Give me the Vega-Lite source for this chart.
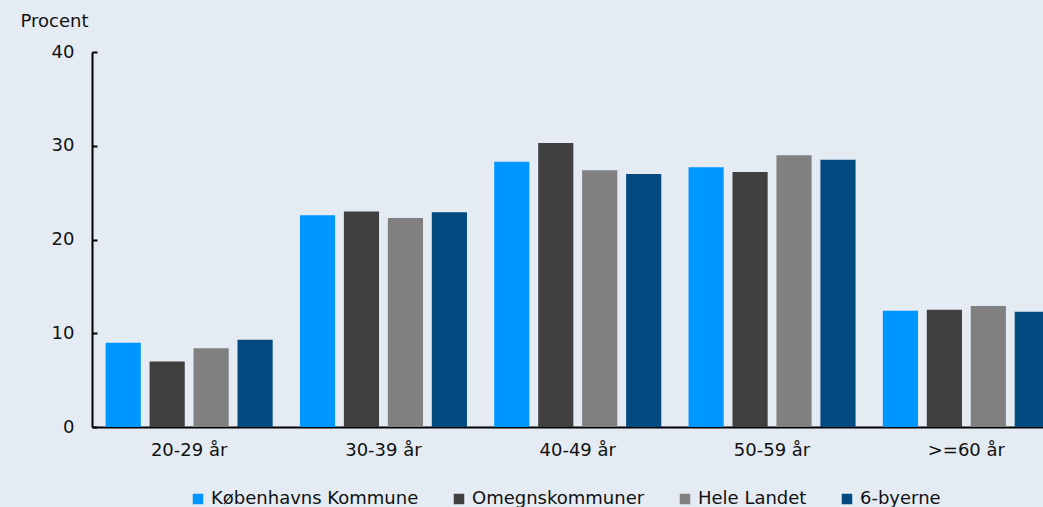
{
  "$schema": "https://vega.github.io/schema/vega-lite/v6.json",
  "width": 971.5,
  "height": 375,
  "autosize": {"type": "none"},
  "padding": {"left": 92, "top": 52, "right": 0, "bottom": 80},
  "background": "#e4ebf3",
  "config": {
    "view": {"stroke": null, "fill": "#e4ebf3", "clip": false},
    "font": "DejaVu Sans",
    "text": {"font": "DejaVu Sans"}
  },
  "data": {
    "values": [
      {"alder": "20-29 år", "område": "Københavns Kommune", "pct": 9.0},
      {"alder": "20-29 år", "område": "Omegnskommuner", "pct": 7.0},
      {"alder": "20-29 år", "område": "Hele Landet", "pct": 8.4},
      {"alder": "20-29 år", "område": "6-byerne", "pct": 9.3},
      {"alder": "30-39 år", "område": "Københavns Kommune", "pct": 22.6},
      {"alder": "30-39 år", "område": "Omegnskommuner", "pct": 23.0},
      {"alder": "30-39 år", "område": "Hele Landet", "pct": 22.3},
      {"alder": "30-39 år", "område": "6-byerne", "pct": 22.9},
      {"alder": "40-49 år", "område": "Københavns Kommune", "pct": 28.3},
      {"alder": "40-49 år", "område": "Omegnskommuner", "pct": 30.3},
      {"alder": "40-49 år", "område": "Hele Landet", "pct": 27.4},
      {"alder": "40-49 år", "område": "6-byerne", "pct": 27.0},
      {"alder": "50-59 år", "område": "Københavns Kommune", "pct": 27.7},
      {"alder": "50-59 år", "område": "Omegnskommuner", "pct": 27.2},
      {"alder": "50-59 år", "område": "Hele Landet", "pct": 29.0},
      {"alder": "50-59 år", "område": "6-byerne", "pct": 28.5},
      {"alder": ">=60 år", "område": "Københavns Kommune", "pct": 12.4},
      {"alder": ">=60 år", "område": "Omegnskommuner", "pct": 12.5},
      {"alder": ">=60 år", "område": "Hele Landet", "pct": 12.9},
      {"alder": ">=60 år", "område": "6-byerne", "pct": 12.3}
    ]
  },
  "mark": {"type": "bar"},
  "encoding": {
    "x": {
      "field": "alder",
      "type": "nominal",
      "sort": ["20-29 år", "30-39 år", "40-49 år", "50-59 år", ">=60 år"],
      "scale": {"paddingInner": 0, "paddingOuter": 0},
      "axis": {
        "title": null,
        "labelAngle": 0,
        "labelFontSize": 18,
        "labelColor": "#111111",
        "labelPadding": 14,
        "ticks": false,
        "domainColor": "#000000",
        "domainWidth": 2,
        "grid": false
      }
    },
    "xOffset": {
      "field": "område",
      "type": "nominal",
      "sort": ["Københavns Kommune", "Omegnskommuner", "Hele Landet", "6-byerne"],
      "scale": {"paddingInner": 0.2, "paddingOuter": 0.31}
    },
    "y": {
      "field": "pct",
      "type": "quantitative",
      "scale": {"domain": [0, 40], "nice": false},
      "axis": {
        "values": [0, 10, 20, 30, 40],
        "title": "Procent",
        "titleAngle": 0,
        "titleAlign": "left",
        "titleBaseline": "alphabetic",
        "titleX": -72,
        "titleY": -26,
        "titleFontSize": 18,
        "titleFontWeight": "normal",
        "titleColor": "#111111",
        "labelFontSize": 18,
        "labelColor": "#111111",
        "labelPadding": 23,
        "tickSize": -5,
        "tickColor": "#000000",
        "tickWidth": 2,
        "domainColor": "#000000",
        "domainWidth": 2,
        "grid": false
      }
    },
    "color": {
      "field": "område",
      "type": "nominal",
      "sort": ["Københavns Kommune", "Omegnskommuner", "Hele Landet", "6-byerne"],
      "scale": {
        "domain": ["Københavns Kommune", "Omegnskommuner", "Hele Landet", "6-byerne"],
        "range": ["#0096ff", "#404040", "#808080", "#024a7f"]
      },
      "legend": {
        "title": null,
        "orient": "none",
        "direction": "horizontal",
        "legendX": 97,
        "legendY": 438,
        "symbolType": "square",
        "symbolSize": 110,
        "symbolStrokeWidth": 0,
        "labelFontSize": 18,
        "labelColor": "#111111",
        "labelLimit": 0,
        "labelOffset": 4,
        "columnPadding": 31
      }
    }
  }
}
